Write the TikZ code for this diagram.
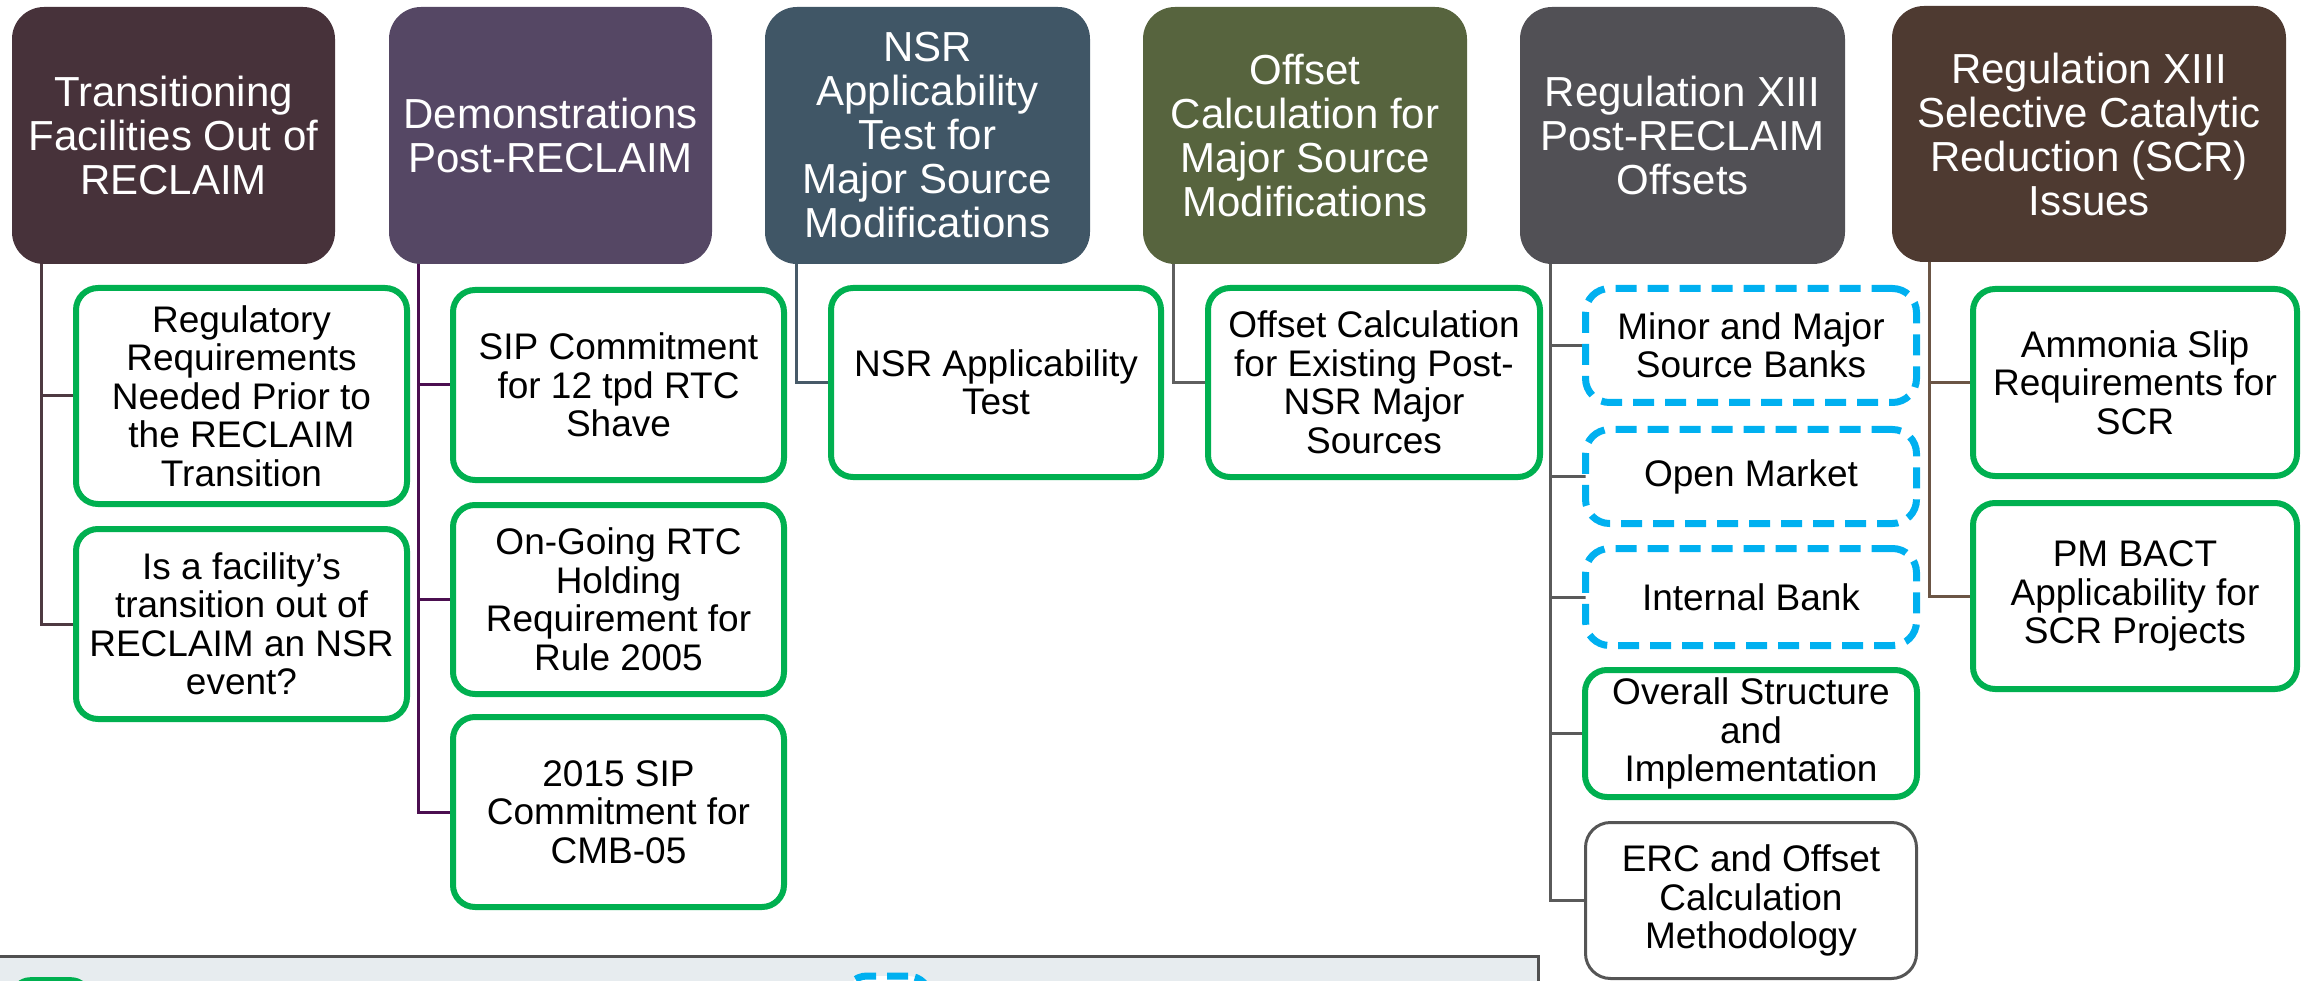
\documentclass[tikz,border=0pt]{standalone}
\usepackage{fontspec}
\setmainfont{Liberation Sans}
\definecolor{hA}{HTML}{47323A}
\definecolor{hB}{HTML}{554764}
\definecolor{hC}{HTML}{405666}
\definecolor{hD}{HTML}{57643E}
\definecolor{hE}{HTML}{515055}
\definecolor{hF}{HTML}{4E3A31}
\definecolor{lA}{HTML}{4E3A41}
\definecolor{lB}{HTML}{4B0F50}
\definecolor{lC}{HTML}{475A68}
\definecolor{lD}{HTML}{5F5F5F}
\definecolor{lE}{HTML}{5A5A5A}
\definecolor{lF}{HTML}{6B5545}
\definecolor{cgreen}{HTML}{00B050}
\definecolor{cblue}{HTML}{00B0F0}
\definecolor{cgray}{HTML}{555555}
\definecolor{legfill}{HTML}{E7ECEF}
\definecolor{legborder}{HTML}{505050}
\begin{document}
\begin{tikzpicture}[x=1pt,y=-1pt,
  head/.style={rectangle, rounded corners=32pt, text=white, align=center, inner sep=0pt,
    font=\fontsize{42}{44}\selectfont, minimum height=257pt},
  child/.style={rectangle, rounded corners=22pt, fill=white, align=center, inner sep=0pt,
    font=\fontsize{37}{38.5}\selectfont, text=black},
  grn/.style={child, draw=cgreen, line width=6pt},
  blu/.style={child, draw=cblue, line width=7pt, rounded corners=24pt, dash pattern=on 21pt off 11pt},
  gry/.style={child, draw=cgray, line width=3pt, rounded corners=25pt},
  conn/.style={line width=3pt}
]
\useasboundingbox (0,0) rectangle (2303,981);
\clip (0,0) rectangle (2303,981);

% headers
\node[head, fill=hA, minimum width=323pt] (h1) at (173.5,135.5) {Transitioning\\Facilities Out of\\RECLAIM};
\node[head, fill=hB, minimum width=323pt] (h2) at (550.5,135.5) {Demonstrations\\Post-RECLAIM};
\node[head, fill=hC, minimum width=325pt] (h3) at (927.5,135.5) {NSR\\Applicability\\Test for\\Major Source\\Modifications};
\node[head, fill=hD, minimum width=324pt] (h4) at (1305,135.5) {Offset\\Calculation for\\Major Source\\Modifications};
\node[head, fill=hE, minimum width=325pt] (h5) at (1682.5,135.5) {Regulation XIII\\Post-RECLAIM\\Offsets};
\node[head, fill=hF, minimum width=394pt, minimum height=256pt] (h6) at (2089,134) {Regulation XIII\\Selective Catalytic\\Reduction (SCR)\\Issues};

% connectors
\draw[conn, lA] (h1.south west) ++(30,0) |- (241.5,396) coordinate (k11);
\draw[conn, lA] (h1.south west) ++(30,0) |- (241.5,624) coordinate (k12);
\draw[conn, lB] (h2.south west) ++(30,0) |- (618.5,385) coordinate (k21);
\draw[conn, lB] (h2.south west) ++(30,0) |- (618.5,599.5) coordinate (k22);
\draw[conn, lB] (h2.south west) ++(30,0) |- (618.5,812) coordinate (k23);
\draw[conn, lC] (h3.south west) ++(32,0) |- (996,382.5) coordinate (k31);
\draw[conn, lD] (h4.south west) ++(31,0) |- (1374,382.5) coordinate (k41);
\draw[conn, lE] (h5.south west) ++(31,0) |- (1751,345.5) coordinate (k51);
\draw[conn, lE] (h5.south west) ++(31,0) |- (1751,476.5) coordinate (k52);
\draw[conn, lE] (h5.south west) ++(31,0) |- (1751,597) coordinate (k53);
\draw[conn, lE] (h5.south west) ++(31,0) |- (1751,733.5) coordinate (k54);
\draw[conn, lE] (h5.south west) ++(31,0) |- (1751,900.5) coordinate (k55);
\draw[conn, lF] (h6.south west) ++(38,0) |- (2135,382.5) coordinate (k61);
\draw[conn, lF] (h6.south west) ++(38,0) |- (2135,596) coordinate (k62);

% children
\node[grn, minimum width=331pt, minimum height=216pt] (c11) at (k11) {Regulatory\\Requirements\\Needed Prior to\\the RECLAIM\\Transition};
\node[grn, minimum width=331pt, minimum height=190pt] (c12) at (k12) {Is a facility’s\\transition out of\\RECLAIM an NSR\\event?};
\node[grn, minimum width=331pt, minimum height=190pt] (c21) at (k21) {SIP Commitment\\for 12 tpd RTC\\Shave};
\node[grn, minimum width=331pt, minimum height=189pt] (c22) at (k22) {On-Going RTC\\Holding\\Requirement for\\Rule 2005};
\node[grn, minimum width=331pt, minimum height=190pt] (c23) at (k23) {2015 SIP\\Commitment for\\CMB-05};
\node[grn, minimum width=330pt, minimum height=189pt] (c31) at (k31) {NSR Applicability\\Test};
\node[grn, minimum width=332pt, minimum height=189pt] (c41) at (k41) {Offset Calculation\\for Existing Post-\\NSR Major\\Sources};
\node[blu, minimum width=331pt, minimum height=114pt] (c51) at (k51) {Minor and Major\\Source Banks};
\node[blu, minimum width=331pt, minimum height=94pt] (c52) at (k52) {Open Market};
\node[blu, minimum width=331pt, minimum height=97pt] (c53) at (k53) {Internal Bank};
\node[grn, minimum width=332pt, minimum height=127pt] (c54) at (k54) {Overall Structure\\and\\Implementation};
\node[gry, minimum width=331pt, minimum height=156pt] (c55) at (k55) {ERC and Offset\\Calculation\\Methodology};
\node[grn, minimum width=324pt, minimum height=187pt] (c61) at (k61) {Ammonia Slip\\Requirements for\\SCR};
\node[grn, minimum width=324pt, minimum height=186pt] (c62) at (k62) {PM BACT\\Applicability for\\SCR Projects};

% legend (cut off at the bottom)
\node[rectangle, fill=legfill, draw=legborder, line width=3pt, minimum width=1550pt, minimum height=80pt, inner sep=0pt, anchor=north west] (leg) at (-13,955) {};
\node[rectangle, fill=cgreen, rounded corners=20pt, minimum width=81pt, minimum height=60pt, inner sep=0pt, anchor=north west] (legg) at (10,977) {};
\node[rectangle, fill=white, draw=cblue, line width=7pt, dash pattern=on 21pt off 11pt, rounded corners=22pt, minimum width=85pt, minimum height=60pt, inner sep=0pt, anchor=north west] (legb) at (841.5,972.5) {};
\end{tikzpicture}
\end{document}
